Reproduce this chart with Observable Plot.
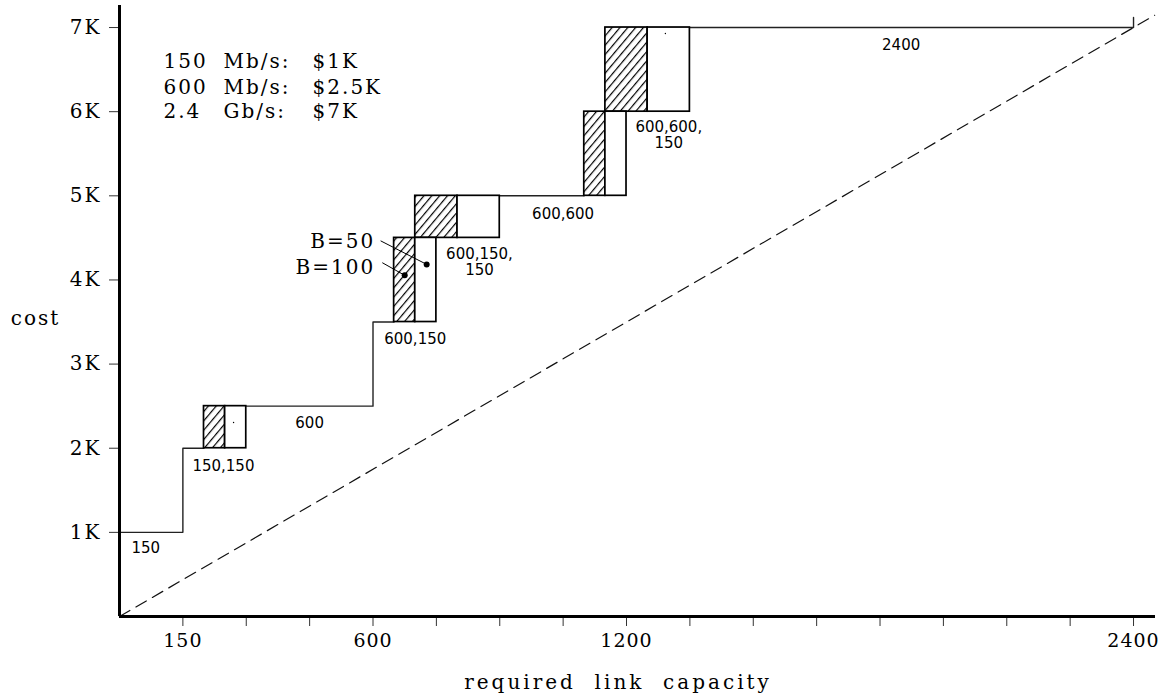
<!DOCTYPE html>
<html><head><meta charset="utf-8">
<script src="https://cdn.jsdelivr.net/npm/d3@7"></script>
<script src="https://cdn.jsdelivr.net/npm/@observablehq/plot@0.6"></script>
<style>
html,body{margin:0;padding:0;background:#fff;}
#chart svg text{white-space:pre;}
</style></head><body><div id="chart"></div>
<script>
// Step (cost curve) vertices
const stepCapacity = [0,150,150,200,200,600,600,650,650,700,700,1100,1100,1150,1150,2400,2400];
const stepCost     = [1000,1000,2000,2000,2500,2500,3500,3500,4500,4500,5000,5000,6000,6000,7000,7000,7120];
// Boxes: hatched (B=100) and white (B=50) parts
const boxStart = [200,650,700,1100,1150];
const boxMid   = [250,700,800,1150,1250];
const boxEnd   = [300,750,900,1200,1350];
const boxLow   = [2000,3500,4500,5000,6000];
const boxHigh  = [2500,4500,5000,6000,7000];
// Configuration labels
const configLabels = ["150","150,150","600","600,150","600,150,\n150","600,600","600,600,\n150","2400"];
const configX = [62,246,450,700,852,1050,1300,1850];
const configY = [810,1790,2300,3300,4210,4790,5720,6790];
// Diagonal reference line
const diagCapacity = [0,2450];
const diagCost = [0,7146];
// B markers
const markerLabels = ["B=50","B=100"];
const markerTextX = [605,605];
const markerTextY = [4460,4150];
const leaderX1 = [618,622];
const leaderY1 = [4465,4205];
const dotX = [727,675];
const dotY = [4185,4055];
const tinyDotX = [270,1292];
const tinyDotY = [2306,6929];
// Price legend
const rates = ["150","600","2.4"];
const units = ["Mb/s:","Mb/s:","Gb/s:"];
const prices = ["$1K","$2.5K","$7K"];
const legendY = [6590,6290,6000];
// Ticks
const xTickValues = [150,300,450,600,750,900,1050,1200,1350,1500,1650,1800,1950,2100,2250,2400];
const xMajor = [150,600,1200,2400];
const yTickValues = [1000,2000,3000,4000,5000,6000,7000];

const serif = "DejaVu Serif";
const sans = "DejaVu Sans";
const ser = {fontFamily: serif, fontSize: 20, fill: "black"};

const chart = Plot.plot({
  width: 1166,
  height: 698,
  marginLeft: 119,
  marginRight: 11,
  marginTop: 5,
  marginBottom: 82,
  style: {fontFamily: serif, fontSize: "19px", background: "white", color: "black"},
  x: {domain: [0, 2452]},
  y: {domain: [0, 7262]},
  marks: [
    Plot.axisX(xTickValues, {tickFormat: d => xMajor.includes(d) ? String(d) : "", tickSize: 10, tickPadding: 7, fontSize: 19, fontFamily: serif, label: null, stroke: "#333"}),
    Plot.axisY(yTickValues, {tickFormat: d => (d/1000) + "K", tickSize: 10, tickPadding: 8, fontSize: 20, fontFamily: serif, label: null, stroke: "#333"}),
    Plot.line(diagCapacity.map((c,i)=>({c, v: diagCost[i]})), {x: "c", y: "v", stroke: "#111", strokeWidth: 1.2, strokeDasharray: "12,7"}),
    Plot.line(stepCapacity.map((c,i)=>({c, v: stepCost[i]})), {x: "c", y: "v", stroke: "#222", strokeWidth: 1.4}),
    Plot.rect(boxStart.map((s,i)=>({x1: s, x2: boxMid[i], y1: boxLow[i], y2: boxHigh[i]})), {x1: "x1", x2: "x2", y1: "y1", y2: "y2", fill: "url(#hatch)", stroke: "black", strokeWidth: 1.7}),
    Plot.rect(boxStart.map((s,i)=>({x1: boxMid[i], x2: boxEnd[i], y1: boxLow[i], y2: boxHigh[i]})), {x1: "x1", x2: "x2", y1: "y1", y2: "y2", fill: "white", stroke: "black", strokeWidth: 1.7}),
    Plot.text(configLabels, {x: (d,i) => configX[i], y: (d,i) => configY[i], text: d => d, fontFamily: sans, fontSize: 15, fill: "black", lineHeight: 1.05}),
    Plot.link(markerLabels, {x1: (d,i)=>leaderX1[i], y1: (d,i)=>leaderY1[i], x2: (d,i)=>dotX[i], y2: (d,i)=>dotY[i], stroke: "black", strokeWidth: 1}),
    Plot.dot(markerLabels, {x: (d,i)=>dotX[i], y: (d,i)=>dotY[i], r: 3, fill: "black", stroke: "none"}),
    Plot.dot(tinyDotX, {x: d => d, y: (d,i)=>tinyDotY[i], r: 0.7, fill: "black", stroke: "none"}),
    Plot.text(markerLabels, {x: (d,i)=>markerTextX[i], y: (d,i)=>markerTextY[i], text: d => d, textAnchor: "end", ...ser}),
    Plot.text(rates, {x: 104, y: (d,i)=>legendY[i], text: d => d, textAnchor: "start", ...ser}),
    Plot.text(units, {x: 246, y: (d,i)=>legendY[i], text: d => d, textAnchor: "start", ...ser}),
    Plot.text(prices, {x: 457, y: (d,i)=>legendY[i], text: d => d, textAnchor: "start", ...ser}),
    Plot.text(["required  link  capacity"], {x: 1180, frameAnchor: "bottom", dy: 72, text: d => d, textAnchor: "middle", ...ser}),
    Plot.text(["cost"], {y: 3540, frameAnchor: "left", dx: -84, text: d => d, textAnchor: "middle", ...ser}),
    Plot.ruleX([0], {stroke: "black", strokeWidth: 3}),
    Plot.ruleY([0], {stroke: "black", strokeWidth: 3})
  ]
});

const ns = "http://www.w3.org/2000/svg";
const defs = document.createElementNS(ns, "defs");
defs.innerHTML = '<pattern id="hatch" patternUnits="userSpaceOnUse" width="6" height="6" patternTransform="rotate(40)"><rect width="6" height="6" fill="white"/><line x1="0.6" y1="-1" x2="0.6" y2="7" stroke="#000" stroke-width="1.2"/></pattern>';
chart.insertBefore(defs, chart.firstChild);
// widen serif lettering
const sel = d3.select(chart);
sel.selectAll('[aria-label="x-axis tick label"] text').style("letter-spacing", "1px");
sel.selectAll('[aria-label="y-axis tick label"] text').style("letter-spacing", "2px");
sel.selectAll('[aria-label="text"]').filter(function(){ return this.getAttribute("font-family") === serif; })
  .selectAll("text").style("letter-spacing", function(){ return this.textContent.includes("capacity") ? "3px" : "2px"; });
document.getElementById("chart").appendChild(chart);
</script></body></html>
